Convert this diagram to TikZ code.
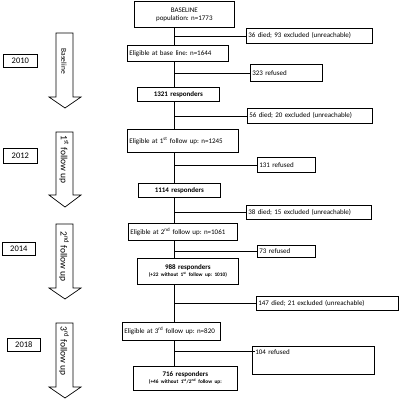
\documentclass[tikz,border=0pt]{standalone}
\usepackage{fontspec}
\setmainfont{Carlito}
\frenchspacing
\begin{document}
\begin{tikzpicture}[x=1pt,y=-1pt,line width=0.7pt,
  box/.style={draw, fill=white, anchor=north west, inner sep=2pt, align=left, font=\fontsize{7}{8}\selectfont},
  resp/.style={box, align=center, font=\fontsize{7}{8}\selectfont\bfseries},
  year/.style={draw, anchor=north west, inner sep=1pt, font=\fontsize{8.5}{9}\selectfont},
  phase/.style={rotate=-90, anchor=west, inner sep=0pt}]

  \useasboundingbox[fill=white] (0,0) rectangle (400,400);

  % main column
  \node[box, align=center, text width=96pt, minimum height=26pt] (base) at (134,1) {BASELINE\\population: n=1773};
  \node[box, text width=122pt, minimum height=15pt] (died0) at (246,28) {36 died; 93 excluded (unreachable)};
  \node[box, text width=97pt, minimum height=16pt] (elig0) at (127,45) {Eligible at base line: n=1644};
  \node[box, text width=68pt, minimum height=17pt] (ref0) at (250,64) {323 refused};
  \node[resp, text width=78pt, minimum height=14pt] (resp0) at (137,87) {1321 responders};
  \node[box, text width=121pt, minimum height=15pt] (died1) at (247,108) {56 died; 20 excluded (unreachable)};
  \node[box, text width=107pt, minimum height=23pt] (elig1) at (127,129) {Eligible at 1\textsuperscript{st} follow up: n=1245};
  \node[box, text width=54pt, minimum height=15pt] (ref1) at (257,157) {131 refused};
  \node[resp, text width=78pt, minimum height=14pt] (resp1) at (138,183) {1114 responders};
  \node[box, text width=121pt, minimum height=14pt] (died2) at (246,205) {38 died; 15 excluded (unreachable)};
  \node[box, text width=105pt, minimum height=17pt] (elig2) at (128,223) {Eligible at 2\textsuperscript{nd} follow up: n=1061};
  \node[box, text width=54pt, minimum height=12pt] (ref2) at (257,245) {73 refused};
  \node[resp, text width=97pt, minimum height=26pt] (resp2) at (137,258) {988 responders\\[-1pt]{\fontsize{5.3}{6}\selectfont (+22 without 1\textsuperscript{st} follow up: 1010)}};
  \node[box, text width=138pt, minimum height=14pt] (died3) at (256,296) {147 died; 21 excluded (unreachable)};
  \node[box, text width=94pt, minimum height=18pt] (elig3) at (122,322) {Eligible at 3\textsuperscript{rd} follow up: n=820};
  \node[box, text width=116pt, text depth=17pt, inner sep=3pt] (ref3) at (252,346) {104 refused};
  \node[resp, text width=100pt, minimum height=24pt] (resp3) at (133,366) {716 responders\\[-1pt]{\fontsize{5.3}{6}\selectfont (+46 without 1\textsuperscript{st}/2\textsuperscript{nd} follow up:}};

  % years
  \node[year, minimum width=34pt, minimum height=13pt] (y2010) at (3,54) {2010};
  \node[year, minimum width=34pt, minimum height=15pt] (y2012) at (3,148) {2012};
  \node[year, minimum width=33pt, minimum height=13pt] (y2014) at (2,242) {2014};
  \node[year, minimum width=33pt, minimum height=13pt] (y2018) at (7,338) {2018};

  % spine and branches
  \coordinate (sp) at (174,0);
  \foreach \a/\z in {base/elig0,elig0/resp0,resp0/elig1,elig1/resp1,resp1/elig2,elig2/resp2,resp2/elig3,elig3/resp3}
    \draw (sp |- \a.south) -- (sp |- \z.north);
  \foreach \c in {died0,ref0,died1,ref1,died2,ref2,died3}
    \draw (sp |- \c.west) -- (\c.west);
  \draw (sp |- ref3.mid west) -- (ref3.text |- ref3.mid west);

  % phase arrows
  \foreach \top/\hd/\tip/\off/\fs/\lab in {33/97/108/15/7.5/Baseline,
      132/195/207/3/9.5/1\textsuperscript{st} follow up,
      224/288/299/7/9.5/2\textsuperscript{nd} follow up,
      323/387/398/3/9.5/3\textsuperscript{rd} follow up} {
    \filldraw[fill=white, draw=black] (56,\top) -- (73,\top) -- (73,\hd) -- (81,\hd) -- (65,\tip) -- (49,\hd) -- (56,\hd) -- cycle;
    \node[phase, font=\fontsize{\fs}{\fs}\selectfont] (ph\top) at (64,\top+\off) {\lab};
  }

\end{tikzpicture}
\end{document}
